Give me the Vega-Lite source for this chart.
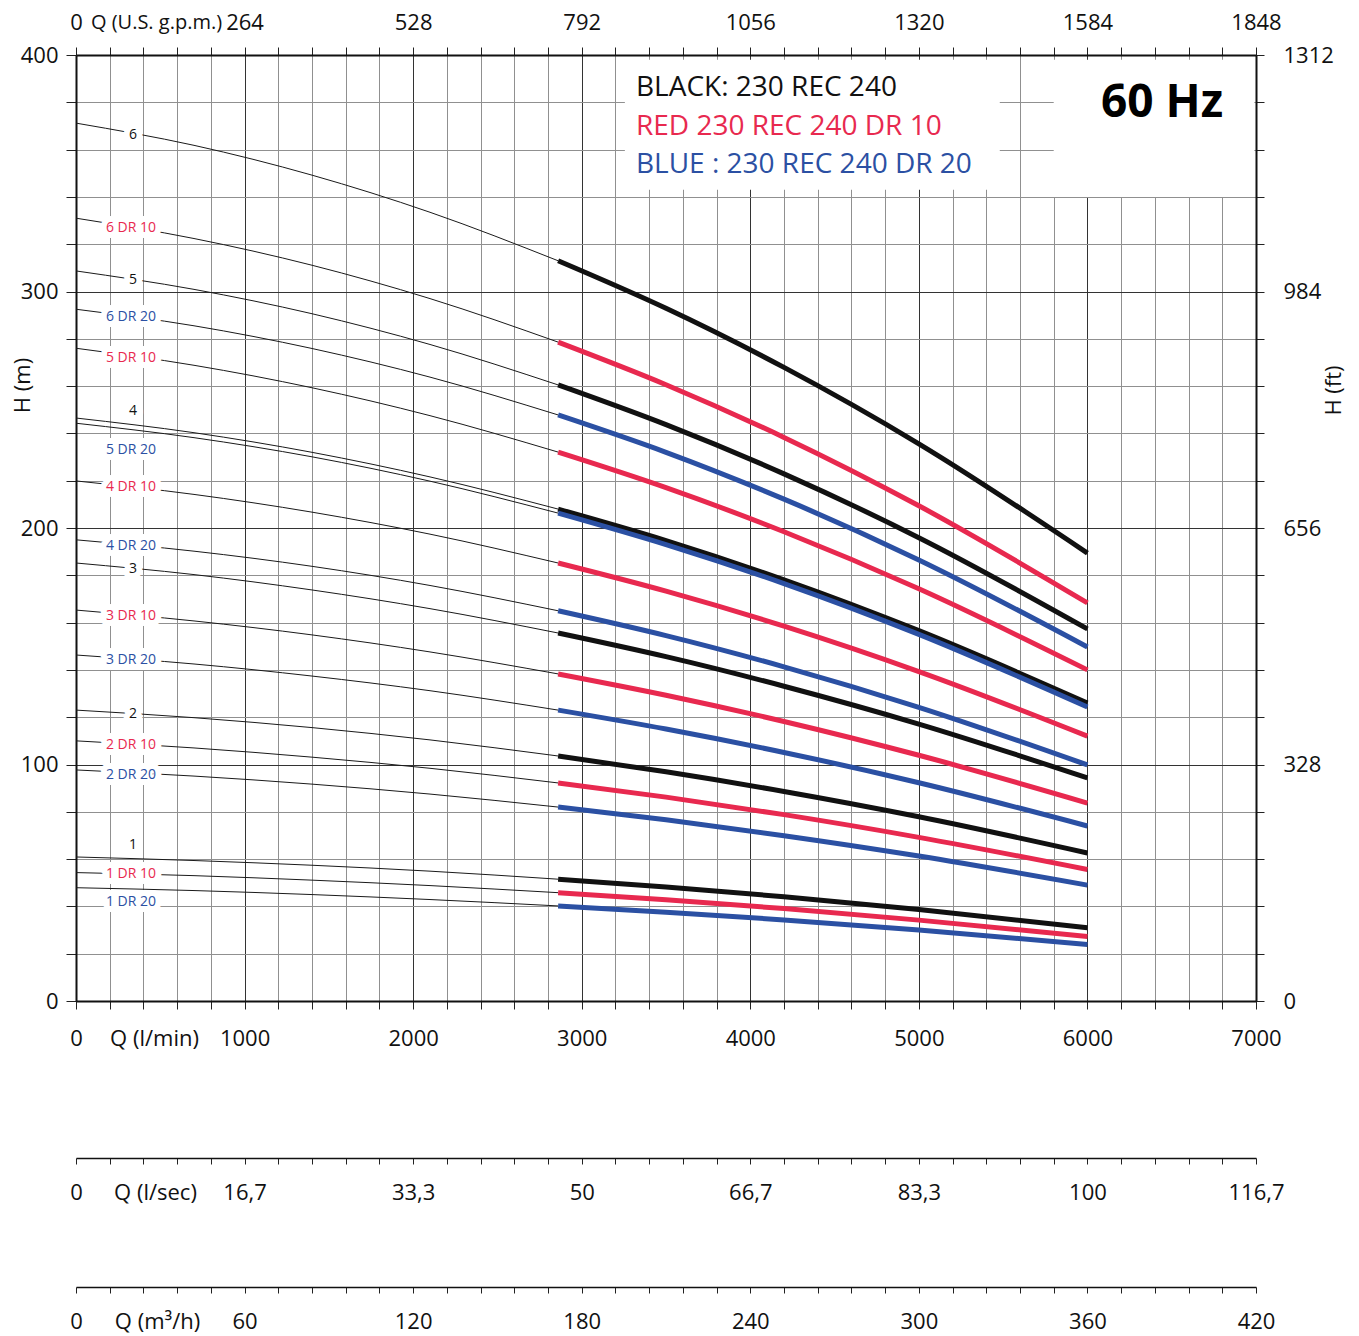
{
"$schema":"https://vega.github.io/schema/vega-lite/v6.json",
"width":1180,"height":946,
"autosize":{"type":"none"},
"padding":{"left":76,"top":55,"right":103,"bottom":335},
"background":"white",
"config":{"font":"Open Sans","view":{"stroke":null},
 "axis":{"labelFont":"Open Sans","titleFont":"Open Sans","labelFontSize":22,"titleFontSize":22,"titleFontWeight":"normal","labelColor":"#111","titleColor":"#111","domainColor":"#111","tickColor":"#222","labelOverlap":false},
 "axisX":{"labelFlush":false}},
"datasets":{
"boxes":[{"Q1":3256,"Q2":5480,"H1":343,"H2":398},{"Q1":5800,"Q2":6990,"H1":340,"H2":398}],
"labels":[
{"t":"6","g":"black","Q":338,"H":366.2},
{"t":"6 DR 10","g":"red","Q":326,"H":327.0},
{"t":"5","g":"black","Q":338,"H":304.9},
{"t":"6 DR 20","g":"blue","Q":326,"H":289.2},
{"t":"5 DR 10","g":"red","Q":326,"H":271.9},
{"t":"4","g":"black","Q":338,"H":249.5},
{"t":"5 DR 20","g":"blue","Q":326,"H":233.0},
{"t":"4 DR 10","g":"red","Q":326,"H":217.3},
{"t":"4 DR 20","g":"blue","Q":326,"H":192.4},
{"t":"3","g":"black","Q":338,"H":182.7},
{"t":"3 DR 10","g":"red","Q":326,"H":162.8},
{"t":"3 DR 20","g":"blue","Q":326,"H":144.2},
{"t":"2","g":"black","Q":338,"H":121.4},
{"t":"2 DR 10","g":"red","Q":326,"H":108.2},
{"t":"2 DR 20","g":"blue","Q":326,"H":95.6},
{"t":"1","g":"black","Q":338,"H":66.0},
{"t":"1 DR 10","g":"red","Q":326,"H":53.7},
{"t":"1 DR 20","g":"blue","Q":326,"H":41.9}],
"legend":[
{"t":"BLACK: 230 REC 240","g":"black","Q":3322,"H":386},
{"t":"RED 230 REC 240 DR 10","g":"red","Q":3322,"H":369.6},
{"t":"BLUE : 230 REC 240 DR 20","g":"blue","Q":3322,"H":353.5}],
"hz":[{"t":"60 Hz","Q":6443,"H":379.7}],
"curves":[
{"c":"6","g":"black","p":"thin","Q":0,"H":371.2},{"c":"6","g":"black","p":"thin","Q":700,"H":361.8},{"c":"6","g":"black","p":"thin","Q":1400,"H":349.2},{"c":"6","g":"black","p":"thin","Q":2100,"H":333.5},{"c":"6","g":"black","p":"thin","Q":2860,"H":313.0},
{"c":"6","g":"black","p":"thick","Q":2860,"H":313.0},{"c":"6","g":"black","p":"thick","Q":3500,"H":292.9},{"c":"6","g":"black","p":"thick","Q":4200,"H":267.9},{"c":"6","g":"black","p":"thick","Q":5000,"H":235.6},{"c":"6","g":"black","p":"thick","Q":6000,"H":189.4},
{"c":"6 DR 10","g":"red","p":"thin","Q":0,"H":331.0},{"c":"6 DR 10","g":"red","p":"thin","Q":700,"H":322.4},{"c":"6 DR 10","g":"red","p":"thin","Q":1400,"H":311.1},{"c":"6 DR 10","g":"red","p":"thin","Q":2100,"H":297.0},{"c":"6 DR 10","g":"red","p":"thin","Q":2860,"H":278.6},
{"c":"6 DR 10","g":"red","p":"thick","Q":2860,"H":278.6},{"c":"6 DR 10","g":"red","p":"thick","Q":3500,"H":260.6},{"c":"6 DR 10","g":"red","p":"thick","Q":4200,"H":238.3},{"c":"6 DR 10","g":"red","p":"thick","Q":5000,"H":209.4},{"c":"6 DR 10","g":"red","p":"thick","Q":6000,"H":168.3},
{"c":"5","g":"black","p":"thin","Q":0,"H":308.7},{"c":"5","g":"black","p":"thin","Q":700,"H":300.9},{"c":"5","g":"black","p":"thin","Q":1400,"H":290.6},{"c":"5","g":"black","p":"thin","Q":2100,"H":277.6},{"c":"5","g":"black","p":"thin","Q":2860,"H":260.5},
{"c":"5","g":"black","p":"thick","Q":2860,"H":260.5},{"c":"5","g":"black","p":"thick","Q":3500,"H":243.7},{"c":"5","g":"black","p":"thick","Q":4200,"H":222.9},{"c":"5","g":"black","p":"thick","Q":5000,"H":195.9},{"c":"5","g":"black","p":"thick","Q":6000,"H":157.3},
{"c":"6 DR 20","g":"blue","p":"thin","Q":0,"H":292.5},{"c":"6 DR 20","g":"blue","p":"thin","Q":700,"H":285.5},{"c":"6 DR 20","g":"blue","p":"thin","Q":1400,"H":275.9},{"c":"6 DR 20","g":"blue","p":"thin","Q":2100,"H":263.8},{"c":"6 DR 20","g":"blue","p":"thin","Q":2860,"H":247.8},
{"c":"6 DR 20","g":"blue","p":"thick","Q":2860,"H":247.8},{"c":"6 DR 20","g":"blue","p":"thick","Q":3500,"H":232.0},{"c":"6 DR 20","g":"blue","p":"thick","Q":4200,"H":212.2},{"c":"6 DR 20","g":"blue","p":"thick","Q":5000,"H":186.5},{"c":"6 DR 20","g":"blue","p":"thick","Q":6000,"H":149.7},
{"c":"5 DR 10","g":"red","p":"thin","Q":0,"H":276.0},{"c":"5 DR 10","g":"red","p":"thin","Q":700,"H":268.8},{"c":"5 DR 10","g":"red","p":"thin","Q":1400,"H":259.3},{"c":"5 DR 10","g":"red","p":"thin","Q":2100,"H":247.5},{"c":"5 DR 10","g":"red","p":"thin","Q":2860,"H":232.1},
{"c":"5 DR 10","g":"red","p":"thick","Q":2860,"H":232.1},{"c":"5 DR 10","g":"red","p":"thick","Q":3500,"H":217.1},{"c":"5 DR 10","g":"red","p":"thick","Q":4200,"H":198.4},{"c":"5 DR 10","g":"red","p":"thick","Q":5000,"H":174.3},{"c":"5 DR 10","g":"red","p":"thick","Q":6000,"H":140.0},
{"c":"4","g":"black","p":"thin","Q":0,"H":246.5},{"c":"4","g":"black","p":"thin","Q":700,"H":240.3},{"c":"4","g":"black","p":"thin","Q":1400,"H":232.0},{"c":"4","g":"black","p":"thin","Q":2100,"H":221.6},{"c":"4","g":"black","p":"thin","Q":2860,"H":208.0},
{"c":"4","g":"black","p":"thick","Q":2860,"H":208.0},{"c":"4","g":"black","p":"thick","Q":3500,"H":194.7},{"c":"4","g":"black","p":"thick","Q":4200,"H":178.1},{"c":"4","g":"black","p":"thick","Q":5000,"H":156.6},{"c":"4","g":"black","p":"thick","Q":6000,"H":126.0},
{"c":"5 DR 20","g":"blue","p":"thin","Q":0,"H":244.3},{"c":"5 DR 20","g":"blue","p":"thin","Q":700,"H":238.2},{"c":"5 DR 20","g":"blue","p":"thin","Q":1400,"H":230.1},{"c":"5 DR 20","g":"blue","p":"thin","Q":2100,"H":219.8},{"c":"5 DR 20","g":"blue","p":"thin","Q":2860,"H":206.3},
{"c":"5 DR 20","g":"blue","p":"thick","Q":2860,"H":206.3},{"c":"5 DR 20","g":"blue","p":"thick","Q":3500,"H":193.0},{"c":"5 DR 20","g":"blue","p":"thick","Q":4200,"H":176.5},{"c":"5 DR 20","g":"blue","p":"thick","Q":5000,"H":155.0},{"c":"5 DR 20","g":"blue","p":"thick","Q":6000,"H":124.3},
{"c":"4 DR 10","g":"red","p":"thin","Q":0,"H":219.9},{"c":"4 DR 10","g":"red","p":"thin","Q":700,"H":214.2},{"c":"4 DR 10","g":"red","p":"thin","Q":1400,"H":206.7},{"c":"4 DR 10","g":"red","p":"thin","Q":2100,"H":197.4},{"c":"4 DR 10","g":"red","p":"thin","Q":2860,"H":185.2},
{"c":"4 DR 10","g":"red","p":"thick","Q":2860,"H":185.2},{"c":"4 DR 10","g":"red","p":"thick","Q":3500,"H":173.3},{"c":"4 DR 10","g":"red","p":"thick","Q":4200,"H":158.5},{"c":"4 DR 10","g":"red","p":"thick","Q":5000,"H":139.3},{"c":"4 DR 10","g":"red","p":"thick","Q":6000,"H":112.0},
{"c":"4 DR 20","g":"blue","p":"thin","Q":0,"H":195.0},{"c":"4 DR 20","g":"blue","p":"thin","Q":700,"H":190.2},{"c":"4 DR 20","g":"blue","p":"thin","Q":1400,"H":183.8},{"c":"4 DR 20","g":"blue","p":"thin","Q":2100,"H":175.7},{"c":"4 DR 20","g":"blue","p":"thin","Q":2860,"H":165.0},
{"c":"4 DR 20","g":"blue","p":"thick","Q":2860,"H":165.0},{"c":"4 DR 20","g":"blue","p":"thick","Q":3500,"H":154.5},{"c":"4 DR 20","g":"blue","p":"thick","Q":4200,"H":141.3},{"c":"4 DR 20","g":"blue","p":"thick","Q":5000,"H":124.2},{"c":"4 DR 20","g":"blue","p":"thick","Q":6000,"H":99.8},
{"c":"3","g":"black","p":"thin","Q":0,"H":185.2},{"c":"3","g":"black","p":"thin","Q":700,"H":180.3},{"c":"3","g":"black","p":"thin","Q":1400,"H":173.8},{"c":"3","g":"black","p":"thin","Q":2100,"H":165.9},{"c":"3","g":"black","p":"thin","Q":2860,"H":155.6},
{"c":"3","g":"black","p":"thick","Q":2860,"H":155.6},{"c":"3","g":"black","p":"thick","Q":3500,"H":145.6},{"c":"3","g":"black","p":"thick","Q":4200,"H":133.1},{"c":"3","g":"black","p":"thick","Q":5000,"H":117.1},{"c":"3","g":"black","p":"thick","Q":6000,"H":94.3},
{"c":"3 DR 10","g":"red","p":"thin","Q":0,"H":165.3},{"c":"3 DR 10","g":"red","p":"thin","Q":700,"H":160.7},{"c":"3 DR 10","g":"red","p":"thin","Q":1400,"H":154.8},{"c":"3 DR 10","g":"red","p":"thin","Q":2100,"H":147.6},{"c":"3 DR 10","g":"red","p":"thin","Q":2860,"H":138.3},
{"c":"3 DR 10","g":"red","p":"thick","Q":2860,"H":138.3},{"c":"3 DR 10","g":"red","p":"thick","Q":3500,"H":129.3},{"c":"3 DR 10","g":"red","p":"thick","Q":4200,"H":118.2},{"c":"3 DR 10","g":"red","p":"thick","Q":5000,"H":103.9},{"c":"3 DR 10","g":"red","p":"thick","Q":6000,"H":83.7},
{"c":"3 DR 20","g":"blue","p":"thin","Q":0,"H":146.3},{"c":"3 DR 20","g":"blue","p":"thin","Q":700,"H":142.5},{"c":"3 DR 20","g":"blue","p":"thin","Q":1400,"H":137.4},{"c":"3 DR 20","g":"blue","p":"thin","Q":2100,"H":131.2},{"c":"3 DR 20","g":"blue","p":"thin","Q":2860,"H":123.0},
{"c":"3 DR 20","g":"blue","p":"thick","Q":2860,"H":123.0},{"c":"3 DR 20","g":"blue","p":"thick","Q":3500,"H":115.0},{"c":"3 DR 20","g":"blue","p":"thick","Q":4200,"H":105.1},{"c":"3 DR 20","g":"blue","p":"thick","Q":5000,"H":92.3},{"c":"3 DR 20","g":"blue","p":"thick","Q":6000,"H":74.0},
{"c":"2","g":"black","p":"thin","Q":0,"H":123.0},{"c":"2","g":"black","p":"thin","Q":700,"H":119.8},{"c":"2","g":"black","p":"thin","Q":1400,"H":115.6},{"c":"2","g":"black","p":"thin","Q":2100,"H":110.4},{"c":"2","g":"black","p":"thin","Q":2860,"H":103.6},
{"c":"2","g":"black","p":"thick","Q":2860,"H":103.6},{"c":"2","g":"black","p":"thick","Q":3500,"H":96.9},{"c":"2","g":"black","p":"thick","Q":4200,"H":88.6},{"c":"2","g":"black","p":"thick","Q":5000,"H":77.9},{"c":"2","g":"black","p":"thick","Q":6000,"H":62.6},
{"c":"2 DR 10","g":"red","p":"thin","Q":0,"H":110.0},{"c":"2 DR 10","g":"red","p":"thin","Q":700,"H":107.0},{"c":"2 DR 10","g":"red","p":"thin","Q":1400,"H":103.1},{"c":"2 DR 10","g":"red","p":"thin","Q":2100,"H":98.4},{"c":"2 DR 10","g":"red","p":"thin","Q":2860,"H":92.2},
{"c":"2 DR 10","g":"red","p":"thick","Q":2860,"H":92.2},{"c":"2 DR 10","g":"red","p":"thick","Q":3500,"H":86.2},{"c":"2 DR 10","g":"red","p":"thick","Q":4200,"H":78.8},{"c":"2 DR 10","g":"red","p":"thick","Q":5000,"H":69.2},{"c":"2 DR 10","g":"red","p":"thick","Q":6000,"H":55.6},
{"c":"2 DR 20","g":"blue","p":"thin","Q":0,"H":97.7},{"c":"2 DR 20","g":"blue","p":"thin","Q":700,"H":95.1},{"c":"2 DR 20","g":"blue","p":"thin","Q":1400,"H":91.7},{"c":"2 DR 20","g":"blue","p":"thin","Q":2100,"H":87.5},{"c":"2 DR 20","g":"blue","p":"thin","Q":2860,"H":82.0},
{"c":"2 DR 20","g":"blue","p":"thick","Q":2860,"H":82.0},{"c":"2 DR 20","g":"blue","p":"thick","Q":3500,"H":76.6},{"c":"2 DR 20","g":"blue","p":"thick","Q":4200,"H":69.9},{"c":"2 DR 20","g":"blue","p":"thick","Q":5000,"H":61.3},{"c":"2 DR 20","g":"blue","p":"thick","Q":6000,"H":49.0},
{"c":"1","g":"black","p":"thin","Q":0,"H":60.9},{"c":"1","g":"black","p":"thin","Q":700,"H":59.4},{"c":"1","g":"black","p":"thin","Q":1400,"H":57.4},{"c":"1","g":"black","p":"thin","Q":2100,"H":54.9},{"c":"1","g":"black","p":"thin","Q":2860,"H":51.5},
{"c":"1","g":"black","p":"thick","Q":2860,"H":51.5},{"c":"1","g":"black","p":"thick","Q":3500,"H":48.2},{"c":"1","g":"black","p":"thick","Q":4200,"H":44.1},{"c":"1","g":"black","p":"thick","Q":5000,"H":38.7},{"c":"1","g":"black","p":"thick","Q":6000,"H":31.0},
{"c":"1 DR 10","g":"red","p":"thin","Q":0,"H":54.3},{"c":"1 DR 10","g":"red","p":"thin","Q":700,"H":53.0},{"c":"1 DR 10","g":"red","p":"thin","Q":1400,"H":51.1},{"c":"1 DR 10","g":"red","p":"thin","Q":2100,"H":48.8},{"c":"1 DR 10","g":"red","p":"thin","Q":2860,"H":45.8},
{"c":"1 DR 10","g":"red","p":"thick","Q":2860,"H":45.8},{"c":"1 DR 10","g":"red","p":"thick","Q":3500,"H":42.8},{"c":"1 DR 10","g":"red","p":"thick","Q":4200,"H":39.1},{"c":"1 DR 10","g":"red","p":"thick","Q":5000,"H":34.2},{"c":"1 DR 10","g":"red","p":"thick","Q":6000,"H":27.3},
{"c":"1 DR 20","g":"blue","p":"thin","Q":0,"H":47.9},{"c":"1 DR 20","g":"blue","p":"thin","Q":700,"H":46.7},{"c":"1 DR 20","g":"blue","p":"thin","Q":1400,"H":45.0},{"c":"1 DR 20","g":"blue","p":"thin","Q":2100,"H":42.9},{"c":"1 DR 20","g":"blue","p":"thin","Q":2860,"H":40.2},
{"c":"1 DR 20","g":"blue","p":"thick","Q":2860,"H":40.2},{"c":"1 DR 20","g":"blue","p":"thick","Q":3500,"H":37.5},{"c":"1 DR 20","g":"blue","p":"thick","Q":4200,"H":34.3},{"c":"1 DR 20","g":"blue","p":"thick","Q":5000,"H":30.0},{"c":"1 DR 20","g":"blue","p":"thick","Q":6000,"H":23.9}
]},
"layer":[
{"data":{"name":"boxes"},
 "mark":{"type":"rect","fill":"white"},
 "encoding":{
  "x":{"field":"Q1","type":"quantitative","scale":{"domain":[0,7000],"nice":false,"zero":false},
   "axis":{"orient":"bottom","values":[0,200,400,600,800,1000,1200,1400,1600,1800,2000,2200,2400,2600,2800,3000,3200,3400,3600,3800,4000,4200,4400,4600,4800,5000,5200,5400,5600,5800,6000,6200,6400,6600,6800,7000],
    "labelExpr":"datum.value % 1000 === 0 ? format(datum.value,'d') : ''","labelBaseline":"middle","labelPadding":29,"tickSize":8,
    "grid":true,"gridColor":{"condition":{"test":"datum.value % 1000 === 0","value":"#333333"},"value":"#909090"},"gridWidth":1,
    "domainWidth":2,"zindex":0,"title":"Q (l/min)","titleX":78,"titleY":37,"titleAlign":"center","titleBaseline":"middle"}},
  "x2":{"field":"Q2"},
  "y":{"field":"H1","type":"quantitative","scale":{"domain":[0,400],"nice":false,"zero":false},
   "axis":{"orient":"left","values":[0,20,40,60,80,100,120,140,160,180,200,220,240,260,280,300,320,340,360,380,400],
    "labelExpr":"datum.value % 100 === 0 ? format(datum.value,'d') : ''","labelBaseline":"middle","labelPadding":8,"tickSize":10,
    "grid":true,"gridColor":{"condition":{"test":"datum.value % 100 === 0","value":"#333333"},"value":"#909090"},"gridWidth":1,
    "domainWidth":2,"zindex":0,"title":"H (m)","titleAngle":270,"titleX":-54,"titleY":330,"titleAlign":"center","titleBaseline":"middle"}},
  "y2":{"field":"H2"}}},
{"data":{"name":"curves"},"transform":[{"filter":"datum.p === 'thin'"}],
 "mark":{"type":"line","stroke":"#1a1a1a","strokeWidth":1,"interpolate":"monotone"},
 "encoding":{
  "x":{"field":"Q","type":"quantitative","scale":{"domain":[0,7000],"nice":false,"zero":false},
   "axis":{"orient":"top","values":[0,200,400,600,800,1000,1200,1400,1600,1800,2000,2200,2400,2600,2800,3000,3200,3400,3600,3800,4000,4200,4400,4600,4800,5000,5200,5400,5600,5800,6000,6200,6400,6600,6800,7000],
    "labelExpr":"datum.value % 1000 === 0 ? format(datum.value*0.264,'d') : ''","labelBaseline":"middle","labelPadding":25,"tickSize":8,
    "grid":false,"domainWidth":2,"zindex":1,"title":"Q (U.S. g.p.m.)","titleFontSize":20,"titleX":80,"titleY":-33,"titleAlign":"center","titleBaseline":"middle"}},
  "y":{"field":"H","type":"quantitative","scale":{"domain":[0,400],"nice":false,"zero":false},
   "axis":{"orient":"right","values":[0,20,40,60,80,100,120,140,160,180,200,220,240,260,280,300,320,340,360,380,400],
    "labelExpr":"datum.value % 100 === 0 ? format(datum.value*3.28,'d') : ''","labelBaseline":"middle","labelAlign":"left","labelPadding":19,"tickSize":8,
    "grid":false,"domainWidth":2,"zindex":1,"title":"H (ft)","titleAngle":270,"titleX":77,"titleY":335,"titleAlign":"center","titleBaseline":"middle"}},
  "detail":{"field":"c"}}},
{"data":{"name":"labels"},
 "mark":{"type":"text","fill":"white","stroke":"white","strokeWidth":12,"strokeJoin":"round","fontSize":14,"font":"Open Sans","align":"center","baseline":"middle"},
 "encoding":{
  "x":{"field":"Q","type":"quantitative","scale":{"domain":[0,7000],"nice":false,"zero":false},
   "axis":{"orient":"bottom","offset":157,"values":[0,200,400,600,800,1000,1200,1400,1600,1800,2000,2200,2400,2600,2800,3000,3200,3400,3600,3800,4000,4200,4400,4600,4800,5000,5200,5400,5600,5800,6000,6200,6400,6600,6800,7000],
    "labelExpr":"datum.value % 1000 === 0 ? replace(format(datum.value/60,'.1~f'),'.',',') : ''","labelBaseline":"middle","labelPadding":28,"tickSize":6,
    "grid":false,"domainWidth":1.5,"zindex":1,"title":"Q (l/sec)","titleX":79,"titleY":34,"titleAlign":"center","titleBaseline":"middle"}},
  "y":{"field":"H","type":"quantitative","scale":{"domain":[0,400],"nice":false,"zero":false},"axis":null},
  "text":{"field":"t"}}},
{"data":{"name":"labels"},
 "mark":{"type":"text","fontSize":14,"font":"Open Sans","align":"center","baseline":"middle"},
 "encoding":{
  "x":{"field":"Q","type":"quantitative","scale":{"domain":[0,7000],"nice":false,"zero":false},
   "axis":{"orient":"bottom","offset":286,"values":[0,200,400,600,800,1000,1200,1400,1600,1800,2000,2200,2400,2600,2800,3000,3200,3400,3600,3800,4000,4200,4400,4600,4800,5000,5200,5400,5600,5800,6000,6200,6400,6600,6800,7000],
    "labelExpr":"datum.value % 1000 === 0 ? format(datum.value*0.06,'d') : ''","labelBaseline":"middle","labelPadding":28,"tickSize":6,
    "grid":false,"domainWidth":1.5,"zindex":1,"title":"Q (m³/h)","titleX":81,"titleY":34,"titleAlign":"center","titleBaseline":"middle"}},
  "y":{"field":"H","type":"quantitative","scale":{"domain":[0,400],"nice":false,"zero":false},"axis":null},
  "text":{"field":"t"},
  "color":{"field":"g","type":"nominal","scale":{"domain":["black","red","blue"],"range":["#111111","#e8294f","#2b50a3"]},"legend":null}}},
{"data":{"name":"curves"},"transform":[{"filter":"datum.p === 'thick'"}],
 "mark":{"type":"line","strokeWidth":5,"interpolate":"monotone"},
 "encoding":{
  "x":{"field":"Q","type":"quantitative","scale":{"domain":[0,7000],"nice":false,"zero":false},"axis":null},
  "y":{"field":"H","type":"quantitative","scale":{"domain":[0,400],"nice":false,"zero":false},"axis":null},
  "detail":{"field":"c"},
  "color":{"field":"g","type":"nominal","scale":{"domain":["black","red","blue"],"range":["#111111","#e8294f","#2b50a3"]},"legend":null}}},
{"data":{"name":"legend"},
 "mark":{"type":"text","fontSize":28,"font":"Open Sans","align":"left","baseline":"middle"},
 "encoding":{
  "x":{"field":"Q","type":"quantitative","scale":{"domain":[0,7000],"nice":false,"zero":false},"axis":null},
  "y":{"field":"H","type":"quantitative","scale":{"domain":[0,400],"nice":false,"zero":false},"axis":null},
  "text":{"field":"t"},
  "color":{"field":"g","type":"nominal","scale":{"domain":["black","red","blue"],"range":["#111111","#e8294f","#2b50a3"]},"legend":null}}},
{"data":{"name":"hz"},
 "mark":{"type":"text","fontSize":46,"fontWeight":"bold","font":"Open Sans","align":"center","baseline":"middle","fill":"#000"},
 "encoding":{
  "x":{"field":"Q","type":"quantitative","scale":{"domain":[0,7000],"nice":false,"zero":false},"axis":null},
  "y":{"field":"H","type":"quantitative","scale":{"domain":[0,400],"nice":false,"zero":false},"axis":null},
  "text":{"field":"t"}}}
],
"resolve":{"axis":{"x":"independent","y":"independent"}}
}
